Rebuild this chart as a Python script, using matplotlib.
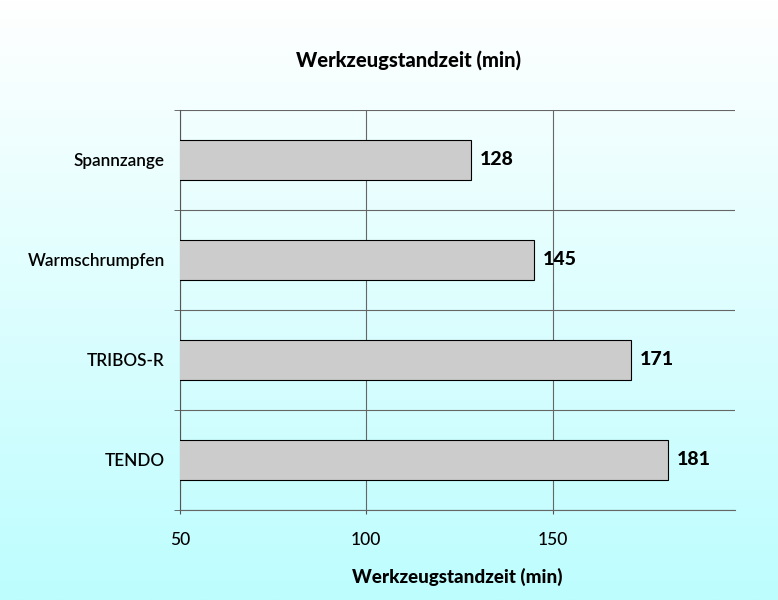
import numpy as np
import matplotlib
matplotlib.use('Agg')
import matplotlib.pyplot as plt
from matplotlib.colors import LinearSegmentedColormap

plt.rcParams['font.family'] = ['Lato', 'DejaVu Sans']

# data
categories = ['Spannzange', 'Warmschrumpfen', 'TRIBOS-R', 'TENDO']
standzeit = [128, 145, 171, 181]
x_ticks = [50, 100, 150]

fig = plt.figure(figsize=(7.78, 6.0), dpi=100)

# background gradient (white top -> light cyan bottom)
bg = fig.add_axes([0, 0, 1, 1], zorder=0)
grad = np.linspace(0, 1, 256).reshape(-1, 1)
cmap = LinearSegmentedColormap.from_list('bg', ['#ffffff', '#bdfdfe'])
bg.imshow(grad, aspect='auto', cmap=cmap, extent=[0, 1, 0, 1], origin='upper')
bg.axis('off')

ax = fig.add_axes([0.2314, 0.15, 0.7134, 0.6667], zorder=1)
ax.patch.set_alpha(0)

y = np.arange(len(categories))
ax.barh(y, standzeit, left=0, height=0.4, color='#cccccc',
        edgecolor='black', linewidth=0.8, zorder=3)

for yi, v in zip(y, standzeit):
    ax.text(v + 2.5, yi, str(v), va='center', ha='left',
            fontsize=14, fontweight='black', zorder=4)

ax.set_xlim(50, 199)
ax.set_ylim(len(categories) - 0.5, -0.5)
ax.set_xticks(x_ticks)
ax.set_xticklabels([str(t) for t in x_ticks], fontsize=12.5, fontweight='medium')
ax.set_yticks(y)
ax.set_yticklabels(categories, fontsize=12.3, fontweight='semibold')
ax.tick_params(axis='y', which='major', length=0, pad=11)
ax.tick_params(axis='x', which='major', length=3, pad=13, direction='out',
               color='#555555')
ax.set_yticks(np.arange(len(categories) + 1) - 0.5, minor=True)
ax.tick_params(axis='y', which='minor', length=4, color='#555555')

ax.grid(axis='x', which='major', color='#666666', linewidth=0.8, zorder=1)
ax.grid(axis='y', which='minor', color='#666666', linewidth=0.8, zorder=1)

for s in ['top', 'right']:
    ax.spines[s].set_visible(False)
ax.spines['left'].set_color('#555555')
ax.spines['bottom'].set_color('#666666')
ax.spines['left'].set_linewidth(0.8)
ax.spines['bottom'].set_linewidth(0.8)

ax.set_xlabel('Werkzeugstandzeit (min)', fontsize=13.5, fontweight='black',
              labelpad=14)
fig.text(0.525, 0.9, 'Werkzeugstandzeit (min)', ha='center', va='center',
         fontsize=14.5, fontweight='black')

fig.savefig('out.png', dpi=100)
